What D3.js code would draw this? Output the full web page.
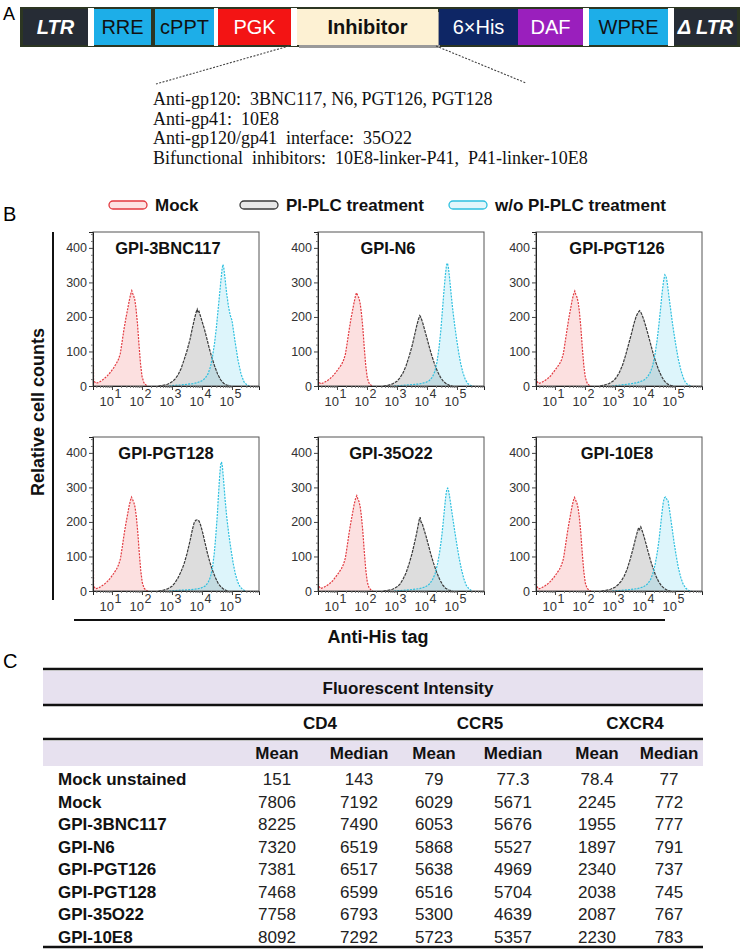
<!DOCTYPE html>
<html><head><meta charset="utf-8">
<script src="https://cdn.jsdelivr.net/npm/d3@7"></script>
<style>
body{margin:0;background:#fff;}
svg{display:block;font-family:Arial,"Liberation Sans",sans-serif;}
</style></head><body>
<svg id="fig" width="750" height="950"></svg>
<script>
// ===== DATA =====
const constructParts = ["LTR","RRE","cPPT","PGK","Inhibitor","6\u00D7His","DAF","WPRE","\u0394 LTR"];
const inhibitorLines = [
  "Anti-gp120:  3BNC117, N6,\u2009PGT126, PGT128",
  "Anti-gp41:  10E8",
  "Anti-gp120/gp41  interface:  35O22",
  "Bifunctional  inhibitors:  10E8-linker-P41,  P41-linker-10E8"
];
const legendLabels = ["Mock","PI-PLC treatment","w/o PI-PLC treatment"];
const panelNames = ["GPI-3BNC117","GPI-N6","GPI-PGT126","GPI-PGT128","GPI-35O22","GPI-10E8"];
const yTicks = [0,100,200,300,400];
const xTickExps = [1,2,3,4,5];

// histogram curves: [log10(fluorescence), relative cell count]
const mockCurves = [
 [[0.37,0],[0.37,215],[0.385,18],[0.45,8],[0.55,10],[0.65,15],[0.75,22],[0.85,30],[0.95,40],[1.05,52],[1.15,66],[1.22,78],[1.28,95],[1.34,130],[1.4,165],[1.46,195],[1.52,222],[1.57,245],[1.62,265],[1.66,276],[1.69,268],[1.72,262],[1.76,250],[1.8,225],[1.85,180],[1.9,120],[1.95,65],[2.0,28],[2.06,10],[2.13,3],[2.2,0]],
 [[0.37,0],[0.37,260],[0.385,15],[0.45,6],[0.55,9],[0.65,14],[0.75,20],[0.85,28],[0.95,38],[1.05,50],[1.15,62],[1.22,75],[1.28,92],[1.34,125],[1.4,160],[1.46,192],[1.52,220],[1.57,242],[1.62,262],[1.65,270],[1.69,262],[1.73,255],[1.77,240],[1.81,215],[1.86,170],[1.91,110],[1.96,58],[2.01,24],[2.07,8],[2.14,2],[2.2,0]],
 [[0.37,0],[0.37,280],[0.385,16],[0.45,7],[0.55,10],[0.65,15],[0.75,21],[0.85,29],[0.95,40],[1.05,52],[1.15,64],[1.22,76],[1.28,94],[1.34,128],[1.4,163],[1.46,196],[1.52,224],[1.57,248],[1.62,266],[1.66,275],[1.69,266],[1.73,258],[1.77,244],[1.81,218],[1.86,172],[1.91,112],[1.96,60],[2.01,25],[2.07,9],[2.14,2],[2.2,0]],
 [[0.37,0],[0.37,275],[0.385,15],[0.45,6],[0.55,9],[0.65,14],[0.75,20],[0.85,28],[0.95,38],[1.05,50],[1.15,63],[1.22,76],[1.28,93],[1.34,126],[1.4,162],[1.46,194],[1.52,222],[1.57,246],[1.62,264],[1.65,272],[1.69,264],[1.73,256],[1.77,242],[1.81,216],[1.86,170],[1.91,110],[1.96,58],[2.01,24],[2.07,8],[2.14,2],[2.2,0]],
 [[0.37,0],[0.37,280],[0.385,16],[0.45,7],[0.55,10],[0.65,15],[0.75,21],[0.85,29],[0.95,40],[1.05,52],[1.15,65],[1.22,78],[1.28,96],[1.34,130],[1.4,166],[1.46,198],[1.52,226],[1.57,250],[1.62,268],[1.66,276],[1.69,268],[1.73,260],[1.77,246],[1.81,220],[1.86,174],[1.91,114],[1.96,61],[2.01,26],[2.07,9],[2.14,2],[2.2,0]],
 [[0.37,0],[0.37,280],[0.385,15],[0.45,6],[0.55,9],[0.65,14],[0.75,20],[0.85,28],[0.95,38],[1.05,50],[1.15,63],[1.22,76],[1.28,93],[1.34,126],[1.4,162],[1.46,194],[1.52,222],[1.57,246],[1.62,264],[1.65,271],[1.69,263],[1.73,255],[1.77,241],[1.81,215],[1.86,169],[1.91,109],[1.96,57],[2.01,23],[2.07,8],[2.14,2],[2.2,0]]
];
const piplcCurves = [
 [[2.55,0],[2.7,2],[2.85,5],[3.0,12],[3.1,20],[3.2,32],[3.3,50],[3.4,75],[3.5,102],[3.6,135],[3.68,168],[3.75,195],[3.8,212],[3.84,222],[3.87,212],[3.9,216],[3.94,205],[4.0,188],[4.08,165],[4.16,138],[4.24,110],[4.32,85],[4.42,58],[4.52,35],[4.62,18],[4.72,8],[4.82,3],[4.95,0]],
 [[2.55,0],[2.7,2],[2.85,6],[3.0,14],[3.1,24],[3.2,38],[3.3,58],[3.4,85],[3.5,115],[3.58,145],[3.65,172],[3.71,192],[3.76,204],[3.8,198],[3.86,182],[3.93,160],[4.0,138],[4.08,112],[4.16,88],[4.25,64],[4.35,42],[4.45,25],[4.55,13],[4.65,6],[4.75,2],[4.85,0]],
 [[2.5,0],[2.65,3],[2.8,7],[2.95,15],[3.05,25],[3.15,40],[3.25,60],[3.35,88],[3.45,120],[3.55,152],[3.63,180],[3.7,200],[3.76,212],[3.82,218],[3.86,214],[3.9,206],[3.96,192],[4.03,172],[4.1,150],[4.18,124],[4.26,98],[4.35,72],[4.45,48],[4.55,28],[4.65,14],[4.75,6],[4.85,2],[4.95,0]],
 [[2.55,0],[2.7,2],[2.85,6],[3.0,14],[3.1,24],[3.2,38],[3.3,56],[3.4,78],[3.5,108],[3.6,145],[3.68,178],[3.74,198],[3.79,205],[3.84,206],[3.9,203],[3.95,192],[4.02,170],[4.1,140],[4.18,110],[4.26,84],[4.34,62],[4.44,40],[4.54,22],[4.64,11],[4.74,4],[4.85,0]],
 [[2.55,0],[2.7,2],[2.85,5],[3.0,12],[3.1,20],[3.2,34],[3.3,52],[3.4,78],[3.5,108],[3.58,138],[3.65,165],[3.7,188],[3.74,206],[3.77,214],[3.8,200],[3.84,196],[3.9,178],[3.97,158],[4.05,132],[4.13,106],[4.22,80],[4.32,55],[4.42,34],[4.52,18],[4.62,8],[4.72,3],[4.85,0]],
 [[2.55,0],[2.7,2],[2.85,5],[3.0,11],[3.1,18],[3.2,28],[3.3,42],[3.4,62],[3.5,90],[3.6,122],[3.68,150],[3.74,170],[3.79,184],[3.82,178],[3.86,186],[3.9,176],[3.96,160],[4.03,138],[4.1,115],[4.18,90],[4.26,68],[4.35,46],[4.45,28],[4.55,15],[4.65,7],[4.75,2],[4.85,0]]
];
const woCurves = [
 [[2.9,0],[3.1,2],[3.3,3],[3.5,5],[3.7,7],[3.85,10],[4.0,15],[4.1,22],[4.2,35],[4.28,55],[4.35,85],[4.42,125],[4.48,170],[4.53,215],[4.58,260],[4.63,305],[4.67,340],[4.7,352],[4.73,340],[4.77,310],[4.82,270],[4.88,232],[4.94,205],[5.0,190],[5.1,130],[5.2,75],[5.3,35],[5.4,12],[5.5,3],[5.58,0]],
 [[2.9,0],[3.2,2],[3.5,4],[3.75,6],[3.95,10],[4.08,16],[4.18,26],[4.26,42],[4.33,68],[4.4,110],[4.46,160],[4.51,215],[4.56,270],[4.61,320],[4.65,350],[4.68,356],[4.71,345],[4.75,315],[4.8,270],[4.86,220],[4.92,178],[4.98,140],[5.05,100],[5.12,66],[5.2,38],[5.28,18],[5.36,7],[5.45,2],[5.55,0]],
 [[2.9,0],[3.2,3],[3.5,6],[3.75,10],[3.95,16],[4.08,26],[4.18,40],[4.26,60],[4.33,90],[4.4,130],[4.46,175],[4.52,225],[4.57,270],[4.62,305],[4.66,322],[4.7,318],[4.74,300],[4.79,265],[4.85,225],[4.91,185],[4.97,150],[5.04,112],[5.11,78],[5.19,48],[5.27,25],[5.35,10],[5.44,3],[5.55,0]],
 [[2.9,0],[3.2,2],[3.5,3],[3.75,5],[3.95,8],[4.1,14],[4.2,24],[4.28,40],[4.35,68],[4.41,110],[4.46,160],[4.51,220],[4.55,280],[4.59,335],[4.62,365],[4.65,374],[4.68,360],[4.72,320],[4.77,265],[4.83,210],[4.9,160],[4.97,118],[5.04,80],[5.11,50],[5.19,26],[5.27,12],[5.36,4],[5.45,0]],
 [[2.9,0],[3.2,2],[3.5,4],[3.75,7],[3.95,12],[4.08,20],[4.18,32],[4.27,50],[4.35,78],[4.42,112],[4.48,150],[4.53,190],[4.58,235],[4.62,270],[4.66,295],[4.69,298],[4.72,290],[4.76,270],[4.81,240],[4.87,205],[4.93,170],[5.0,132],[5.07,96],[5.15,62],[5.23,35],[5.31,16],[5.4,6],[5.5,0]],
 [[2.9,0],[3.2,2],[3.5,4],[3.75,7],[3.95,12],[4.08,20],[4.18,32],[4.26,50],[4.34,78],[4.41,112],[4.47,150],[4.52,190],[4.57,230],[4.61,258],[4.65,270],[4.69,272],[4.73,265],[4.77,262],[4.8,245],[4.85,215],[4.91,178],[4.97,140],[5.04,102],[5.11,68],[5.19,40],[5.27,20],[5.36,8],[5.45,2],[5.55,0]]
];

// table
const tableTitle = "Fluorescent Intensity";
const receptors = ["CD4","CCR5","CXCR4"];
const statNames = ["Mean","Median"];
const rowLabels = ["Mock unstained","Mock","GPI-3BNC117","GPI-N6","GPI-PGT126","GPI-PGT128","GPI-35O22","GPI-10E8"];
const cd4Mean     = [151,7806,8225,7320,7381,7468,7758,8092];
const cd4Median   = [143,7192,7490,6519,6517,6599,6793,7292];
const ccr5Mean    = [79,6029,6053,5868,5638,6516,5300,5723];
const ccr5Median  = [77.3,5671,5676,5527,4969,5704,4639,5357];
const cxcr4Mean   = [78.4,2245,1955,1897,2340,2038,2087,2230];
const cxcr4Median = [77,772,777,791,737,745,767,783];

// ===== DRAW =====
const svg = d3.select("#fig");

// ---------- Panel A ----------
svg.append("text").attr("x",3).attr("y",20).text("A").style("font-size","18px");

const partX = [[23,88],[94,151],[155,214],[218,291],[297,438],[439,518],[518,583],[589,668],[674,737]];
const partFill = ["#262c35","#1daee8","#1daee8","#f31414","#fdf1d3","#0e2665","#9a1fbd","#1daee8","#262c35"];
const partTextColor = ["#fff","#111","#111","#fff","#111","#fff","#fff","#111","#fff"];
const partStyle = ["italic","normal","normal","normal","normal","normal","normal","normal","italic"];
const partWeight = ["bold","normal","normal","normal","bold","normal","normal","normal","bold"];
const barY0 = 9, barY1 = 45;
svg.append("rect").attr("x",20).attr("y",barY0-2).attr("width",720).attr("height",barY1-barY0+4)
  .attr("fill","#2c3622");
[[88,94],[214,218],[291,297],[583,589],[668,674]].forEach(g=>{
  svg.append("rect").attr("x",g[0]).attr("y",barY0-1).attr("width",g[1]-g[0]).attr("height",barY1-barY0+2).attr("fill","#fff");
});
svg.append("rect").attr("x",299).attr("y",barY0+3).attr("width",141).attr("height",barY1-barY0).attr("fill","#9a9a9a");
const parts = svg.append("g");
constructParts.forEach((p,i)=>{
  const [a,b]=partX[i];
  parts.append("rect").attr("x",a).attr("y",barY0).attr("width",b-a).attr("height",barY1-barY0).attr("fill",partFill[i]);
  parts.append("text").attr("x",(a+b)/2).attr("y",(barY0+barY1)/2+7)
    .attr("text-anchor","middle").attr("fill",partTextColor[i])
    .style("font-size","20px").style("font-style",partStyle[i]).style("font-weight",partWeight[i]).text(p);
});
svg.append("line").attr("x1",289).attr("y1",barY1+1).attr("x2",156).attr("y2",84)
  .attr("stroke","#444").attr("stroke-width",1.1).attr("stroke-dasharray","2,1.5");
svg.append("line").attr("x1",436).attr("y1",barY1+1).attr("x2",526).attr("y2",83)
  .attr("stroke","#444").attr("stroke-width",1.1).attr("stroke-dasharray","2,1.5");
inhibitorLines.forEach((t,i)=>{
  svg.append("text").attr("x",153).attr("y",105+i*19.5).text(t)
    .style("font-family","'Liberation Serif','Times New Roman',serif").style("font-size","18px").attr("fill","#111")
    .attr("xml:space","preserve").style("white-space","pre");
});

// ---------- Panel B ----------
svg.append("text").attr("x",3).attr("y",221).text("B").style("font-size","20px");

const seriesStyle = [
  {stroke:"#e23a40", fill:"rgba(242,130,130,0.25)", dash:"2,1.2", sw:1.2, sfill:"#fde3e3"},
  {stroke:"#3a3a3a", fill:"rgba(150,150,150,0.32)", dash:"3,1", sw:1.2, sfill:"#e8e8e8"},
  {stroke:"#2fc0df", fill:"rgba(120,215,240,0.25)", dash:"2,1.2", sw:1.2, sfill:"#e2f6fb"}
];
const legX = [109,240,449];
legendLabels.forEach((l,i)=>{
  svg.append("rect").attr("x",legX[i]).attr("y",201).attr("width",38).attr("height",8).attr("rx",4)
    .attr("fill",seriesStyle[i].sfill).attr("stroke",seriesStyle[i].stroke).attr("stroke-width",1.3);
  svg.append("text").attr("x",legX[i]+46).attr("y",211).text(l)
    .style("font-size","17px").style("font-weight","bold").attr("fill","#111");
});

const W = 166, H = 154;
const colX = [93,318,536], rowY = [232,437];
const titleOffset = [75,70,81,73,73,81];
const xS = d3.scaleLinear().domain([0.367, 5.9]).range([0, W]);
const yS = d3.scaleLinear().domain([0, 446]).range([H, 0]);
const area = d3.area().x(d=>xS(d[0])).y0(H).y1(d=>yS(d[1]));
const line = d3.line().x(d=>xS(d[0])).y(d=>yS(d[1]));
const minorX = [];
for(let e=0;e<6;e++) for(let k=2;k<10;k++){ const v=e+Math.log10(k); if(v>0.367&&v<5.9) minorX.push(v); }
const minorY = d3.range(0,441,20).filter(v=>v%100!==0);

panelNames.forEach((name,i)=>{
  const g = svg.append("g").attr("transform",`translate(${colX[i%3]},${rowY[Math.floor(i/3)]})`);
  const cid = "clip"+i;
  g.append("clipPath").attr("id",cid).append("rect").attr("width",W).attr("height",H);
  const curves = [mockCurves[i], piplcCurves[i], woCurves[i]];
  const cg = g.append("g").attr("clip-path",`url(#${cid})`);
  curves.forEach((c,j)=>{
    cg.append("path").datum(c).attr("d",area).attr("fill",seriesStyle[j].fill);
  });
  curves.forEach((c,j)=>{
    cg.append("path").datum(c).attr("d",line).attr("fill","none")
      .attr("stroke",seriesStyle[j].stroke).attr("stroke-width",seriesStyle[j].sw)
      .attr("stroke-dasharray",seriesStyle[j].dash);
  });
  g.append("rect").attr("width",W).attr("height",H).attr("fill","none").attr("stroke","#555").attr("stroke-width",1);
  const ya = g.append("g").call(d3.axisLeft(yS).tickValues(yTicks).tickSize(4).tickPadding(2));
  ya.select(".domain").attr("stroke","#222");
  ya.selectAll("text").style("font-size","12.5px").style("font-family","Arial, 'Liberation Sans', sans-serif").attr("fill","#333");
  ya.selectAll(".tick line").attr("stroke","#444");
  const yam = g.append("g").call(d3.axisLeft(yS).tickValues(minorY).tickSize(2).tickFormat(""));
  yam.select(".domain").remove(); yam.selectAll(".tick line").attr("stroke","#777");
  const xa = g.append("g").attr("transform",`translate(0,${H})`).call(d3.axisBottom(xS).tickValues(xTickExps).tickSize(4).tickFormat(""));
  xa.select(".domain").attr("stroke","#222");
  xa.selectAll(".tick line").attr("stroke","#444");
  const xam = g.append("g").attr("transform",`translate(0,${H})`).call(d3.axisBottom(xS).tickValues(minorX).tickSize(2).tickFormat(""));
  xam.select(".domain").remove(); xam.selectAll(".tick line").attr("stroke","#777");
  xTickExps.forEach(e=>{
    g.append("text").attr("x",xS(e)+2).attr("y",H+20).attr("text-anchor","end")
      .style("font-size","13px").attr("fill","#333").text("10");
    g.append("text").attr("x",xS(e)+2.5).attr("y",H+12).style("font-size","12.5px").attr("fill","#333").text(e);
  });
  g.append("text").attr("x",titleOffset[i]).attr("y",yS(400)+6).attr("text-anchor","middle")
    .style("font-size","16.5px").style("font-weight","bold").attr("fill","#111").text(name);
});

svg.append("line").attr("x1",53).attr("x2",53).attr("y1",232).attr("y2",600).attr("stroke","#111").attr("stroke-width",2);
svg.append("text").attr("transform","translate(44,412) rotate(-90)").attr("text-anchor","middle")
  .style("font-size","18px").style("font-weight","bold").attr("fill","#111").text("Relative cell counts");
svg.append("line").attr("x1",74).attr("x2",665).attr("y1",620).attr("y2",620).attr("stroke","#111").attr("stroke-width",2);
svg.append("text").attr("x",378).attr("y",643).attr("text-anchor","middle")
  .style("font-size","18px").style("font-weight","bold").attr("fill","#111").text("Anti-His tag");

// ---------- Panel C ----------
svg.append("text").attr("x",3).attr("y",668).text("C").style("font-size","20px");
const tX0 = 43, tX1 = 703;
const statCols = [277,359,434,513,597,669];
const recCols = [320,480,635];
svg.append("rect").attr("x",tX0).attr("y",671).attr("width",tX1-tX0).attr("height",33).attr("fill","#e7e1ef");
svg.append("rect").attr("x",tX0).attr("y",741).attr("width",tX1-tX0).attr("height",25).attr("fill","#e7e1ef");
[669,705,739,947].forEach(yv=>{
  svg.append("line").attr("x1",tX0).attr("x2",tX1).attr("y1",yv).attr("y2",yv).attr("stroke","#111").attr("stroke-width",2.6);
});
svg.append("text").attr("x",408).attr("y",694).attr("text-anchor","middle")
  .style("font-size","17px").style("font-weight","bold").attr("fill","#111").text(tableTitle);
receptors.forEach((r,i)=>{
  svg.append("text").attr("x",recCols[i]).attr("y",729).attr("text-anchor","middle")
    .style("font-size","17px").style("font-weight","bold").attr("fill","#111").text(r);
});
statCols.forEach((cx,i)=>{
  svg.append("text").attr("x",cx).attr("y",759).attr("text-anchor","middle")
    .style("font-size","17px").style("font-weight","bold").attr("fill","#111").text(statNames[i%2]);
});
const rowScale = d3.scalePoint().domain(rowLabels).range([785,943]);
const cols = [cd4Mean,cd4Median,ccr5Mean,ccr5Median,cxcr4Mean,cxcr4Median];
rowLabels.forEach((r,ri)=>{
  const yv = rowScale(r);
  svg.append("text").attr("x",58).attr("y",yv).style("font-size","17px").style("font-weight","bold").attr("fill","#111").text(r);
  cols.forEach((c,ci)=>{
    svg.append("text").attr("x",statCols[ci]).attr("y",yv).attr("text-anchor","middle")
      .style("font-size","17px").attr("fill","#222").text(c[ri]);
  });
});
</script>
</body></html>
